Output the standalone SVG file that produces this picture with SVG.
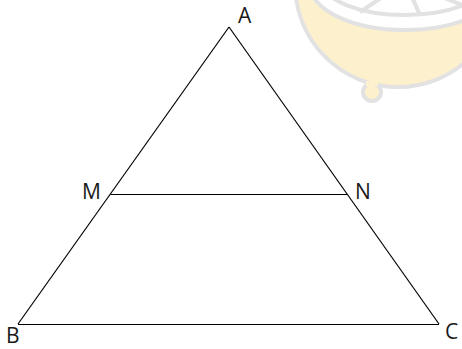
<svg xmlns="http://www.w3.org/2000/svg" width="462" height="349" viewBox="0 0 462 349">
<style>
.edge{stroke:#000;stroke-width:1.2;fill:none}
.lbl{font-family:"Open Sans","Noto Sans","Liberation Sans",sans-serif;font-size:21px;fill:#1a1a1a}
.wm{stroke:#e2e2e2;stroke-width:4}
</style>
<g id="watermark">
<circle cx="372" cy="92" r="9" fill="#fdf0cd" class="wm"/>
<circle cx="398" cy="-16" r="103" fill="#fdf0cd" class="wm"/>
<rect x="366" y="81" width="12" height="5" fill="#fdf0cd"/>
<ellipse cx="405" cy="-15" rx="95" ry="45" fill="#fff" class="wm"/>
<ellipse cx="405" cy="-18" rx="82" ry="33" fill="#fff" class="wm"/>
<line x1="405" y1="-18" x2="360" y2="12" class="wm"/>
<line x1="405" y1="-18" x2="420" y2="15" class="wm"/>
<line x1="405" y1="-18" x2="462" y2="5" class="wm"/>
</g>
<g id="connectors">
<line class="edge" x1="229" y1="27" x2="18" y2="324"/>
<line class="edge" x1="229" y1="27" x2="439" y2="324"/>
<line class="edge" x1="18" y1="324.5" x2="439" y2="324.5"/>
<line class="edge" x1="110.5" y1="194.5" x2="347" y2="194.5"/>
</g>
<g id="A"><text class="lbl" x="238" y="23">A</text></g>
<g id="M"><text class="lbl" x="82" y="199">M</text></g>
<g id="N"><text class="lbl" x="355" y="199">N</text></g>
<g id="B"><text class="lbl" x="6" y="343">B</text></g>
<g id="C"><text class="lbl" x="445" y="339">C</text></g>
</svg>
